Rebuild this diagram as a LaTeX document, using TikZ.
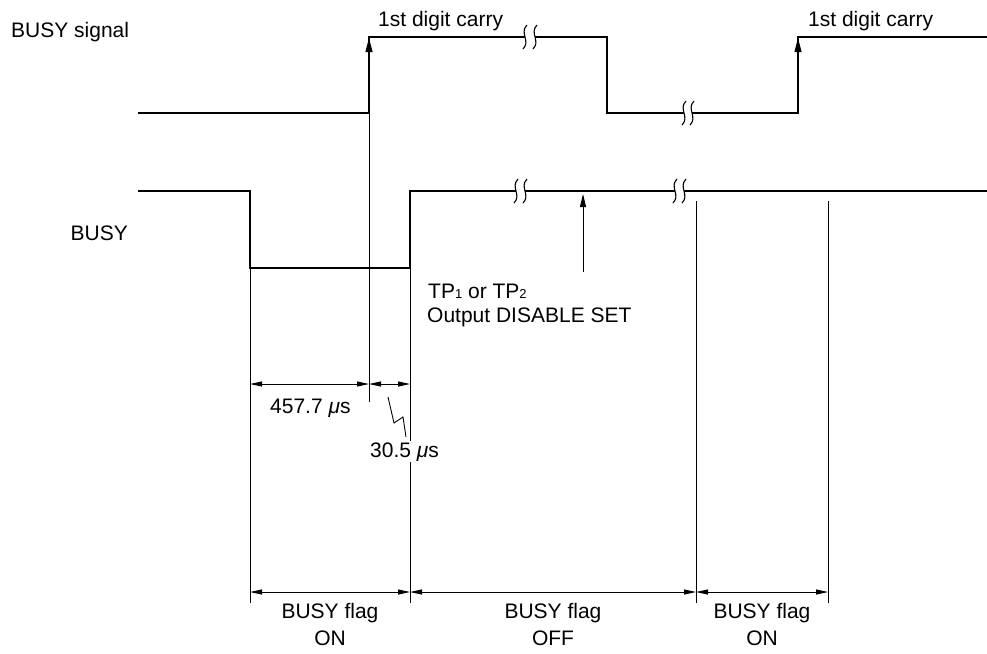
\documentclass[tikz,border=0pt]{standalone}
\usepackage{fontspec}
\setmainfont{Liberation Sans}
\usetikzlibrary{arrows.meta}
\begin{document}
\begin{tikzpicture}[x=1pt,y=-1pt,
  sig/.style={line width=2.8pt, line join=miter},
  thinln/.style={line width=0.9pt},
  brk/.style={line width=1.1pt},
  dim/.style={thinln, {Triangle[length=12pt,width=5pt]}-{Triangle[length=12pt,width=5pt]}},
  uparrow/.style={thinln, -{Triangle[length=14pt,width=7pt]}},
  txt/.style={font=\fontsize{21}{25}\selectfont, inner sep=0pt},
  brkmark/.pic={\draw[brk] (2,-12) .. controls (-6,-4) and (6,4) .. (-2,12);}
]
\useasboundingbox (0,0) rectangle (987,653);

% ---------- waveform vertices ----------
% BUSY signal
\coordinate (s1a) at (138,113);
\coordinate (s1b) at (369,113);
\coordinate (s1c) at (369,37);
\coordinate (s1d) at (525,37);
\coordinate (s1e) at (535,37);
\coordinate (s1f) at (607,37);
\coordinate (s1g) at (607,113);
\coordinate (s1h) at (684,113);
\coordinate (s1i) at (692,113);
\coordinate (s1j) at (798,113);
\coordinate (s1k) at (798,37);
\coordinate (s1l) at (987,37);
% BUSY
\coordinate (s2a) at (138,191);
\coordinate (s2b) at (250,191);
\coordinate (s2c) at (250,268);
\coordinate (s2d) at (410,268);
\coordinate (s2e) at (410,191);
\coordinate (s2f) at (516,191);
\coordinate (s2g) at (525,191);
\coordinate (s2h) at (675,191);
\coordinate (s2i) at (684,191);
\coordinate (s2j) at (987,191);

% ---------- labels ----------
\node[txt, anchor=base west] (lblSig) at (11,37) {BUSY signal};
\node[txt, anchor=base east] (lblBusy) at (128,240) {BUSY};
\node[txt, anchor=base west] (carry1) at (378,26) {1st digit carry};
\node[txt, anchor=base west] (carry2) at (808,26) {1st digit carry};
\node[txt, anchor=base west] (tp) at (428,298) {TP{\fontsize{13}{13}\selectfont 1} or TP{\fontsize{13}{13}\selectfont 2}};
\node[txt, anchor=base west] (ods) at (427,322) {Output DISABLE SET};
\node[txt, anchor=base west] (t457) at (270,413) {457.7 {\itshape μ}s};

% ---------- extension lines ----------
\coordinate (e1t) at (250,268); \coordinate (e1b) at (250,603);
\coordinate (e2t) at (410,268); \coordinate (e2b) at (410,603);
\coordinate (e3t) at (696,201); \coordinate (e3b) at (696,603);
\coordinate (e4t) at (828,201); \coordinate (e4b) at (828,603);
\draw[thinln] (e1t) -- (e1b);
\draw[thinln] (e2t) -- (e2b);
\draw[thinln] (e3t) -- (e3b);
\draw[thinln] (e4t) -- (e4b);

\node[txt, anchor=base west, fill=white, inner sep=1pt] (t305) at (369,457) {30.5 {\itshape μ}s};

% ---------- signals ----------
\draw[sig] (s1a) -- (s1b) -- (s1c) -- (s1d);
\draw[sig] (s1e) -- (s1f) -- (s1g) -- (s1h);
\draw[sig] (s1i) -- (s1j) -- (s1k) -- (s1l);
\draw[sig] (s2a) -- (s2b) -- (s2c) -- (s2d) -- (s2e) -- (s2f);
\draw[sig] (s2g) -- (s2h);
\draw[sig] (s2i) -- (s2j);

% break marks
\pic at (s1d) {brkmark};
\pic at (s1e) {brkmark};
\pic at (s1h) {brkmark};
\pic at (s1i) {brkmark};
\pic at (s2f) {brkmark};
\pic at (s2g) {brkmark};
\pic at (s2h) {brkmark};
\pic at (s2i) {brkmark};

% ---------- event arrows ----------
\coordinate (a1b) at (369,402); \coordinate (a1t) at (369,38);
\coordinate (a2b) at (798,58);  \coordinate (a2t) at (798,38);
\coordinate (a3b) at (583,272); \coordinate (a3t) at (583,194);
\draw[uparrow] (a1b) -- (a1t);
\draw[uparrow] (a2b) -- (a2t);
\draw[thinln, -{Triangle[length=13pt,width=6pt]}] (a3b) -- (a3t);

% ---------- dimensions ----------
\coordinate (d1a) at (250,384); \coordinate (d1b) at (369,384); \coordinate (d1c) at (410,384);
\draw[dim] (d1a) -- (d1b);
\draw[dim] (d1b) -- (d1c);
\coordinate (ld1) at (388,397); \coordinate (ld2) at (394,423);
\coordinate (ld3) at (403,417); \coordinate (ld4) at (406,437);
\draw[thinln] (ld1) -- (ld2) -- (ld3) -- (ld4);

\coordinate (d2a) at (250,592); \coordinate (d2b) at (410,592);
\coordinate (d2c) at (696,592); \coordinate (d2d) at (828,592);
\draw[dim] (d2a) -- (d2b);
\draw[dim] (d2b) -- (d2c);
\draw[dim] (d2c) -- (d2d);

\node[txt, anchor=base] (f1a) at (330,618) {BUSY flag};
\node[txt, anchor=base] (f1b) at (330,645) {ON};
\node[txt, anchor=base] (f2a) at (553,618) {BUSY flag};
\node[txt, anchor=base] (f2b) at (553,645) {OFF};
\node[txt, anchor=base] (f3a) at (762,618) {BUSY flag};
\node[txt, anchor=base] (f3b) at (762,645) {ON};
\end{tikzpicture}
\end{document}
